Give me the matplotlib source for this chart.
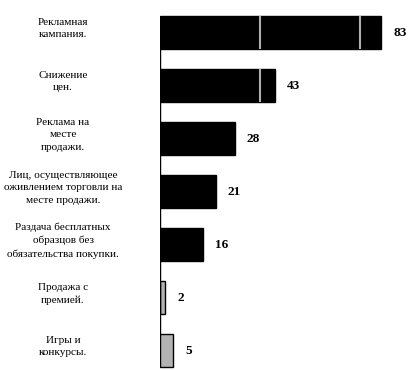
import matplotlib
matplotlib.use("Agg")
import matplotlib.pyplot as plt
import matplotlib.transforms as mtransforms

labels = [
    "Рекламная\nкампания.",
    "Снижение\nцен.",
    "Реклама на\nместе\nпродажи.",
    "Лиц, осуществляющее\nоживлением торговли на\nместе продажи.",
    "Раздача бесплатных\nобразцов без\nобязательства покупки.",
    "Продажа с\nпремией.",
    "Игры и\nконкурсы.",
]
values = [83, 43, 28, 21, 16, 2, 5]
colors = ["black"] * 5 + ["#b3b3b3"] * 2
# light divider lines seen inside the long bars
dividers = {0: [37.5, 75], 1: [37.5]}

plt.rcParams['font.family'] = ['Liberation Serif', 'DejaVu Serif']

fig = plt.figure(figsize=(4.13, 3.70), dpi=100)
ax = fig.add_axes([160 / 413, 0, 253 / 413, 1])

ypos = list(range(len(values)))
ax.barh(ypos, values, height=0.62, color=colors, edgecolor="black", linewidth=1)

for i, xs in dividers.items():
    for xv in xs:
        ax.vlines(xv, i - 0.31, i + 0.31, color="#b0b0b0", linewidth=1.5)

for i, v in enumerate(values):
    ax.text(v + 4.5, i, str(v), ha="left", va="center", fontsize=9.5,
            fontweight="bold")

# category labels sit left of the axis, centred in figure space
trans = mtransforms.blended_transform_factory(fig.transFigure, ax.transData)
for i, lab in enumerate(labels):
    ax.text(63 / 413, i - 0.08, lab, transform=trans, ha="center", va="center",
            fontsize=8.1, linespacing=1.5)

ax.vlines(0, -0.32, 5.7, color="black", linewidth=1)

ax.set_xlim(0, 95)
ax.set_ylim(6.36, -0.62)
ax.axis("off")

fig.savefig("out.png", dpi=100)
